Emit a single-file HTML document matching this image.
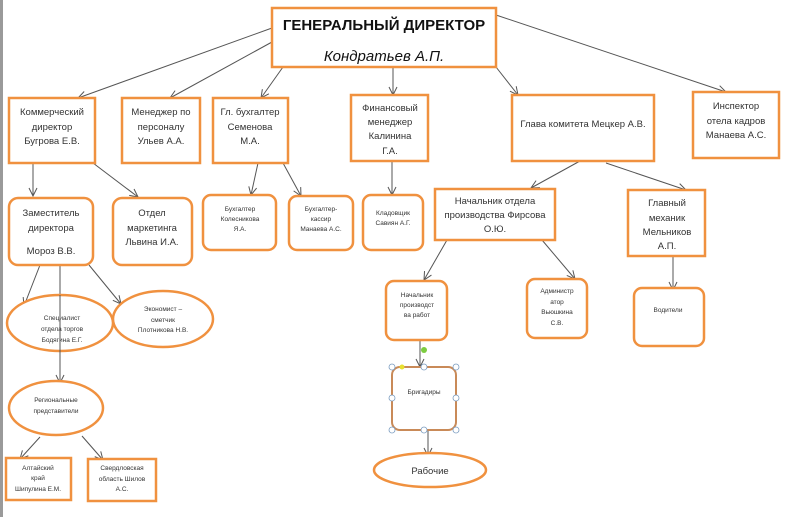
<!DOCTYPE html>
<html><head><meta charset="utf-8"><style>
html,body{margin:0;padding:0;background:#fff;}
svg{display:block;}
text{font-family:"Liberation Sans","DejaVu Sans",sans-serif;fill:#333;text-anchor:middle;}
.b{fill:#fff;stroke:#f0913f;stroke-width:2.5;}
.l{stroke:#555;stroke-width:1;fill:none;marker-end:url(#a);}
.s{font-size:9.5px;}
.xs{font-size:6.5px;}
</style></head><body>
<svg width="792" height="517" viewBox="0 0 792 517" xmlns="http://www.w3.org/2000/svg">
<defs><marker id="a" markerWidth="10" markerHeight="10" refX="9" refY="5" orient="auto" markerUnits="userSpaceOnUse"><path d="M1,1 L9,5 L1,9" fill="none" stroke="#555" stroke-width="1"/></marker></defs>
<rect x="0" y="0" width="3" height="517" fill="#9a9a9a"/>
<!-- connectors -->
<line class="l" x1="272" y1="28" x2="78" y2="98"/>
<line class="l" x1="272" y1="42" x2="170" y2="98"/>
<line class="l" x1="283" y1="67" x2="261" y2="98"/>
<line class="l" x1="393" y1="67" x2="393" y2="95"/>
<line class="l" x1="496" y1="67" x2="518" y2="95"/>
<line class="l" x1="496" y1="15" x2="726" y2="92"/>
<line class="l" x1="33" y1="163" x2="33" y2="196"/>
<line class="l" x1="93" y1="163" x2="138" y2="197"/>
<line class="l" x1="258" y1="163" x2="251" y2="195"/>
<line class="l" x1="283" y1="163" x2="301" y2="196"/>
<line class="l" x1="392" y1="161" x2="392" y2="195"/>
<line class="l" x1="580" y1="161" x2="531" y2="188"/>
<line class="l" x1="606" y1="163" x2="686" y2="190"/>
<line class="l" x1="447" y1="240" x2="424" y2="280"/>
<line class="l" x1="542" y1="240" x2="575" y2="279"/>
<line class="l" x1="673" y1="256" x2="673" y2="290"/>
<line class="l" x1="40" y1="265" x2="24" y2="306"/>
<line class="l" x1="60" y1="265" x2="60" y2="383"/>
<line class="l" x1="89" y1="265" x2="121" y2="304"/>
<line class="l" x1="420" y1="340" x2="420" y2="367"/>
<line class="l" x1="428" y1="430" x2="428" y2="456"/>
<line class="l" x1="40" y1="437" x2="20" y2="459"/>
<line class="l" x1="82" y1="436" x2="103" y2="460"/>
<!-- top -->
<rect class="b" x="272" y="8" width="224" height="59"/>
<text x="384" y="30" style="font-size:15px;font-weight:bold;fill:#111">ГЕНЕРАЛЬНЫЙ ДИРЕКТОР</text>
<text x="384" y="61" style="font-size:15px;font-style:italic;fill:#111">Кондратьев А.П.</text>
<!-- row 1 -->
<rect class="b" x="9" y="98" width="86" height="65"/>
<text class="s" x="52" y="115">Коммерческий</text><text class="s" x="52" y="130">директор</text><text class="s" x="52" y="144">Бугрова Е.В.</text>
<rect class="b" x="122" y="98" width="78" height="65"/>
<text class="s" x="161" y="115">Менеджер по</text><text class="s" x="161" y="130">персоналу</text><text class="s" x="161" y="144">Ульев А.А.</text>
<rect class="b" x="213" y="98" width="75" height="65"/>
<text class="s" x="250" y="115">Гл. бухгалтер</text><text class="s" x="250" y="130">Семенова</text><text class="s" x="250" y="144">М.А.</text>
<rect class="b" x="351" y="95" width="77" height="66"/>
<text class="s" x="390" y="111">Финансовый</text><text class="s" x="390" y="125">менеджер</text><text class="s" x="390" y="139">Калинина</text><text class="s" x="390" y="154">Г.А.</text>
<rect class="b" x="512" y="95" width="142" height="66"/>
<text class="s" x="583" y="127">Глава комитета Мецкер А.В.</text>
<rect class="b" x="693" y="92" width="86" height="66"/>
<text class="s" x="736" y="109">Инспектор</text><text class="s" x="736" y="124">отела кадров</text><text class="s" x="736" y="138">Манаева А.С.</text>
<!-- row 2 -->
<rect class="b" x="9" y="198" width="84" height="67" rx="9"/>
<text class="s" x="51" y="216">Заместитель</text><text class="s" x="51" y="231">директора</text><text class="s" x="51" y="254">Мороз В.В.</text>
<rect class="b" x="113" y="198" width="79" height="67" rx="9"/>
<text class="s" x="152" y="216">Отдел</text><text class="s" x="152" y="231">маркетинга</text><text class="s" x="152" y="245">Львина И.А.</text>
<rect class="b" x="203" y="195" width="73" height="55" rx="8"/>
<text class="xs" x="240" y="211">Бухгалтер</text><text class="xs" x="240" y="221">Колесникова</text><text class="xs" x="240" y="231">Я.А.</text>
<rect class="b" x="289" y="196" width="64" height="54" rx="8"/>
<text class="xs" x="321" y="211">Бухгалтер-</text><text class="xs" x="321" y="221">кассир</text><text class="xs" x="321" y="231">Манаева А.С.</text>
<rect class="b" x="363" y="195" width="60" height="55" rx="8"/>
<text class="xs" x="393" y="215">Кладовщик</text><text class="xs" x="393" y="225">Савиян А.Г.</text>
<rect class="b" x="435" y="189" width="120" height="51"/>
<text class="s" x="495" y="204">Начальник отдела</text><text class="s" x="495" y="218">производства Фирсова</text><text class="s" x="495" y="232">О.Ю.</text>
<rect class="b" x="628" y="190" width="77" height="66"/>
<text class="s" x="667" y="206">Главный</text><text class="s" x="667" y="221">механик</text><text class="s" x="667" y="235">Мельников</text><text class="s" x="667" y="249">А.П.</text>
<!-- row 3 -->
<ellipse class="b" cx="60" cy="323" rx="53" ry="28"/>
<text class="xs" x="62" y="320">Специалист</text><text class="xs" x="62" y="331">отдела торгов</text><text class="xs" x="62" y="342">Бодягина Е.Г.</text>
<line x1="60" y1="295" x2="60" y2="383" stroke="#555" stroke-width="1"/>
<ellipse class="b" cx="163" cy="319" rx="50" ry="28"/>
<text class="xs" x="163" y="311">Экономист –</text><text class="xs" x="163" y="322">сметчик</text><text class="xs" x="163" y="332">Плотникова Н.В.</text>
<rect class="b" x="386" y="281" width="61" height="59" rx="8"/>
<text class="xs" x="417" y="297">Начальник</text><text class="xs" x="417" y="307">производст</text><text class="xs" x="417" y="317">ва работ</text>
<rect class="b" x="527" y="279" width="60" height="59" rx="8"/>
<text class="xs" x="557" y="293">Администр</text><text class="xs" x="557" y="304">атор</text><text class="xs" x="557" y="314">Вьюшкина</text><text class="xs" x="557" y="325">С.В.</text>
<rect class="b" x="634" y="288" width="70" height="58" rx="8"/>
<text class="xs" x="668" y="312">Водители</text>
<rect x="392" y="367" width="64" height="63" rx="8" fill="#fff" stroke="#c98a58" stroke-width="2"/>
<text class="xs" x="424" y="394">Бригадиры</text>
<g fill="#fff" stroke="#7a9cc0" stroke-width="0.8">
<circle cx="392" cy="367" r="3"/><circle cx="424" cy="367" r="3"/><circle cx="456" cy="367" r="3"/>
<circle cx="392" cy="398" r="3"/><circle cx="456" cy="398" r="3"/>
<circle cx="392" cy="430" r="3"/><circle cx="424" cy="430" r="3"/><circle cx="456" cy="430" r="3"/>
</g>
<circle cx="402" cy="367" r="2.5" fill="#e8e030"/>
<circle cx="424" cy="350" r="3" fill="#7ccc40"/>
<ellipse class="b" cx="430" cy="470" rx="56" ry="17"/>
<text class="s" x="430" y="474">Рабочие</text>
<ellipse class="b" cx="56" cy="408" rx="47" ry="27"/>
<text class="xs" x="56" y="402">Региональные</text><text class="xs" x="56" y="413">представители</text>
<rect class="b" x="6" y="458" width="65" height="42"/>
<text class="xs" x="38" y="470">Алтайский</text><text class="xs" x="38" y="480">край</text><text class="xs" x="38" y="491">Шипулина Е.М.</text>
<rect class="b" x="88" y="459" width="68" height="42"/>
<text class="xs" x="122" y="470">Свердловская</text><text class="xs" x="122" y="481">область Шилов</text><text class="xs" x="122" y="491">А.С.</text>
</svg>
</body></html>
